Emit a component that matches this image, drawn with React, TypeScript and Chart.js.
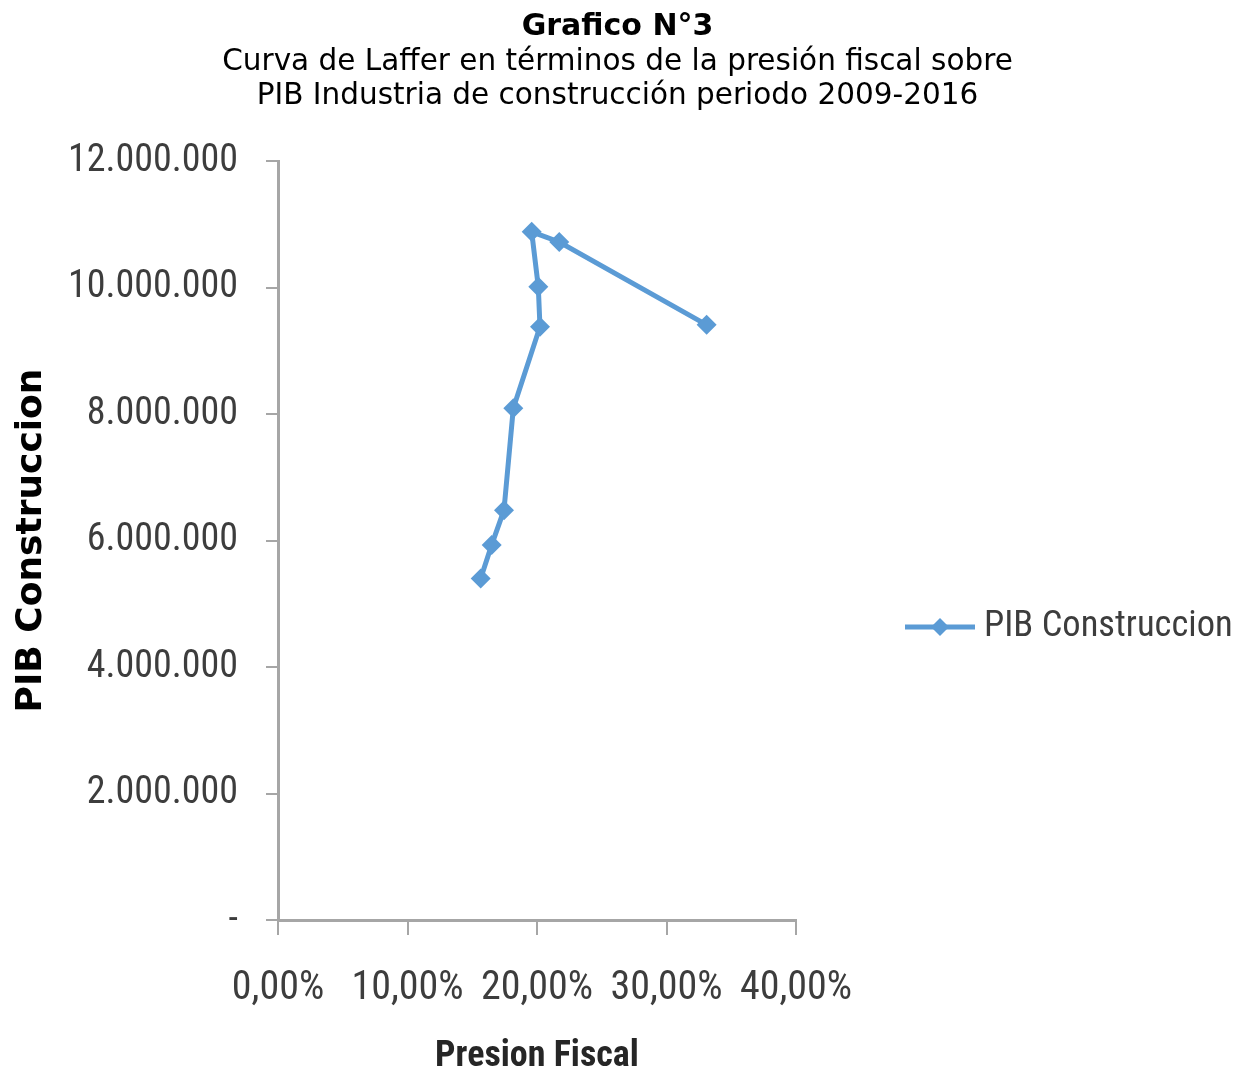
import React, { useEffect, useRef } from "react";
import { Chart, registerables, layouts } from "chart.js";

Chart.register(...registerables);

// Presión fiscal (fraction) and PIB construcción, in the order the curve is traced
const presionFiscal = [0.1565, 0.165, 0.1745, 0.1817, 0.2023, 0.201, 0.1959, 0.2172, 0.331];
const pibConstruccion = [5400000, 5930000, 6480000, 8090000, 9380000, 10010000, 10880000, 10720000, 9410000];

const seriesLabel = "PIB Construccion";
const titleText = "Grafico N°3";
const subtitleLines = [
  "Curva de Laffer en términos de la presión fiscal sobre",
  "PIB Industria de construcción periodo 2009-2016",
];
const xAxisTitle = "Presion Fiscal";
const yAxisTitle = "PIB Construccion";

const BLUE = "#5b9bd5";
const AXIS = "#a6a6a6";
const TICK_TEXT = "#3d3d3d";
const NARROW =
  "'Roboto Condensed', 'Liberation Sans Narrow', 'DejaVu Sans Condensed', 'Arial Narrow', Roboto, sans-serif";
const VERDANA = "'DejaVu Sans', Verdana, sans-serif";

const fmtThousands = (v: number) =>
  v === 0 ? "-" : String(Math.round(v)).replace(/\B(?=(\d{3})+(?!\d))/g, ".");
const fmtPercent = (v: number) => (v * 100).toFixed(2).replace(".", ",") + "%";

// Legend as its own layout box on the right: a line segment with a diamond marker and the series name
const sideLegend = {
  id: "sideLegend",
  start(chart: any) {
    const box: any = {
      position: "right",
      weight: 0,
      fullSize: false,
      options: {},
      left: 0,
      top: 0,
      right: 0,
      bottom: 0,
      width: 0,
      height: 0,
      isHorizontal() {
        return false;
      },
      update(_maxWidth: number, maxHeight: number) {
        this.width = 439;
        this.height = maxHeight;
      },
      draw() {
        const { ctx, chartArea } = chart;
        const ds = chart.data.datasets[0];
        const cy = chartArea.top + (chartArea.bottom - chartArea.top) * 0.614;
        const x0 = this.left + 109;
        ctx.save();
        ctx.strokeStyle = BLUE;
        ctx.lineWidth = 5;
        ctx.beginPath();
        ctx.moveTo(x0, cy);
        ctx.lineTo(x0 + 70, cy);
        ctx.stroke();
        ctx.fillStyle = BLUE;
        ctx.beginPath();
        const r = 9;
        ctx.moveTo(x0 + 35, cy - r);
        ctx.lineTo(x0 + 35 + r, cy);
        ctx.lineTo(x0 + 35, cy + r);
        ctx.lineTo(x0 + 35 - r, cy);
        ctx.closePath();
        ctx.fill();
        ctx.fillStyle = TICK_TEXT;
        ctx.font = `36.5px ${NARROW}`;
        ctx.textBaseline = "middle";
        ctx.textAlign = "left";
        ctx.fillText(ds.label, x0 + 79, cy);
        ctx.restore();
      },
    };
    layouts.addBox(chart, box);
  },
};

export default function App() {
  const canvasRef = useRef<HTMLCanvasElement>(null);

  useEffect(() => {
    if (!canvasRef.current) return;
    const points = presionFiscal.map((x, i) => ({ x, y: pibConstruccion[i] }));
    const chart = new Chart(canvasRef.current, {
      type: "scatter",
      data: {
        datasets: [
          {
            label: seriesLabel,
            data: points,
            showLine: true,
            borderColor: BLUE,
            backgroundColor: BLUE,
            borderWidth: 5,
            pointStyle: "rectRot",
            pointRadius: 10,
            pointHoverRadius: 10,
            pointBorderWidth: 0,
            tension: 0,
          },
        ],
      },
      options: {
        animation: false,
        responsive: false,
        maintainAspectRatio: false,
        layout: { padding: 0 },
        plugins: {
          legend: { display: false },
          tooltip: { enabled: false },
          title: {
            display: true,
            text: titleText,
            color: "#000000",
            font: { family: VERDANA, size: 30, weight: "bold", lineHeight: 1.2 },
            padding: { top: 9, bottom: 0 },
          },
          subtitle: {
            display: true,
            text: subtitleLines,
            color: "#000000",
            font: { family: VERDANA, size: 29.5, weight: "normal", lineHeight: 34 / 29.5 },
            padding: { top: 0, bottom: 48 },
          },
        },
        scales: {
          x: {
            type: "linear",
            min: 0,
            max: 0.4,
            afterFit: (scale: any) => {
              scale.height = 155;
            },
            ticks: {
              stepSize: 0.1,
              autoSkip: false,
              color: TICK_TEXT,
              font: { family: NARROW, size: 40 },
              padding: 30,
              callback: (v: any) => fmtPercent(Number(v)),
              maxRotation: 0,
            },
            grid: {
              drawOnChartArea: false,
              drawTicks: true,
              tickLength: 15,
              color: AXIS,
              lineWidth: 2,
            },
            border: { display: true, color: AXIS, width: 3 },
            title: {
              display: true,
              text: xAxisTitle,
              color: "#262626",
              font: { family: NARROW, size: 36, weight: "bold", lineHeight: 1 },
              padding: { top: 0, bottom: 0 },
            },
          },
          y: {
            type: "linear",
            min: 0,
            max: 12000000,
            afterFit: (scale: any) => {
              scale.width = 278;
            },
            ticks: {
              stepSize: 2000000,
              autoSkip: false,
              color: TICK_TEXT,
              font: { family: NARROW, size: 38 },
              padding: 28,
              callback: (v: any) => fmtThousands(Number(v)),
            },
            grid: {
              drawOnChartArea: false,
              drawTicks: true,
              tickLength: 12,
              color: AXIS,
              lineWidth: 2,
            },
            border: { display: true, color: AXIS, width: 3 },
            title: {
              display: true,
              text: yAxisTitle,
              color: "#000000",
              font: { family: VERDANA, size: 36, weight: "bold", lineHeight: 1.2 },
              padding: { top: 10, bottom: 0 },
            },
          },
        },
      },
      plugins: [sideLegend],
    });
    return () => chart.destroy();
  }, []);

  return (
    <div style={{ position: "fixed", left: 0, top: 0, width: 1235, height: 1075, background: "#ffffff" }}>
      <canvas ref={canvasRef} width={1235} height={1075} />
    </div>
  );
}
